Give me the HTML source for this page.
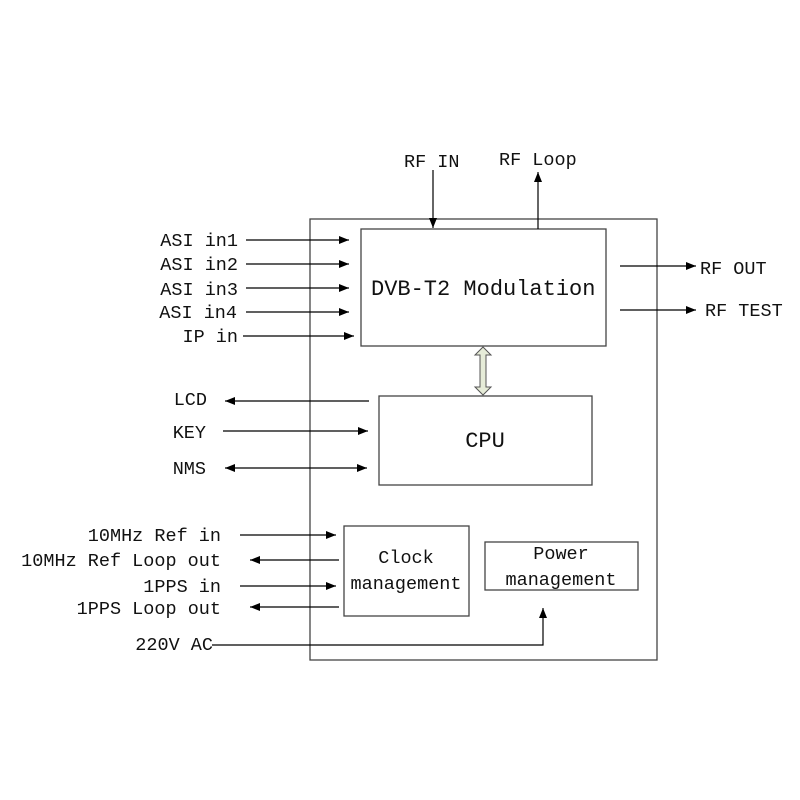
<!DOCTYPE html>
<html><head><meta charset="utf-8"><style>html,body{margin:0;padding:0;background:#fff}svg{display:block}text{font-family:"Liberation Mono","DejaVu Sans Mono",monospace;fill:#111}</style></head>
<body>
<svg width="800" height="800" viewBox="0 0 800 800" xmlns="http://www.w3.org/2000/svg">
<defs>
<marker id="a" markerWidth="10" markerHeight="8" refX="10" refY="4" orient="auto" markerUnits="userSpaceOnUse"><path d="M0,0 L10,4 L0,8 Z" fill="#000"/></marker>
<marker id="b" markerWidth="10" markerHeight="8" refX="0" refY="4" orient="auto" markerUnits="userSpaceOnUse"><path d="M10,0 L0,4 L10,8 Z" fill="#000"/></marker>
</defs>
<g fill="none" stroke="#444" stroke-width="1.3">
<rect x="310" y="219" width="347" height="441"/>
<rect x="361" y="229" width="245" height="117"/>
<rect x="379" y="396" width="213" height="89"/>
<rect x="344" y="526" width="125" height="90"/>
<rect x="485" y="542" width="153" height="48"/>
</g>
<g stroke="#000" stroke-width="1.2" fill="none">
<line x1="433" y1="170" x2="433" y2="228" marker-end="url(#a)"/>
<line x1="538" y1="229" x2="538" y2="172" marker-end="url(#a)"/>
<line x1="246" y1="240" x2="349" y2="240" marker-end="url(#a)"/>
<line x1="246" y1="264" x2="349" y2="264" marker-end="url(#a)"/>
<line x1="246" y1="288" x2="349" y2="288" marker-end="url(#a)"/>
<line x1="246" y1="312" x2="349" y2="312" marker-end="url(#a)"/>
<line x1="243" y1="336" x2="354" y2="336" marker-end="url(#a)"/>
<line x1="620" y1="266" x2="696" y2="266" marker-end="url(#a)"/>
<line x1="620" y1="310" x2="696" y2="310" marker-end="url(#a)"/>
<line x1="369" y1="401" x2="225" y2="401" marker-end="url(#a)"/>
<line x1="223" y1="431" x2="368" y2="431" marker-end="url(#a)"/>
<line x1="225" y1="468" x2="367" y2="468" marker-start="url(#b)" marker-end="url(#a)"/>
<line x1="240" y1="535" x2="336" y2="535" marker-end="url(#a)"/>
<line x1="339" y1="560" x2="250" y2="560" marker-end="url(#a)"/>
<line x1="240" y1="586" x2="336" y2="586" marker-end="url(#a)"/>
<line x1="339" y1="607" x2="250" y2="607" marker-end="url(#a)"/>
<polyline points="212,645 543,645 543,608" marker-end="url(#a)"/>
</g>
<path d="M483,347 L491,355 L486,355 L486,387 L491,387 L483,395 L475,387 L480,387 L480,355 L475,355 Z" fill="#e6ecd8" stroke="#555" stroke-width="1"/>
<g font-size="18.5">
<text x="404" y="167">RF IN</text>
<text x="499" y="165">RF Loop</text>
<g text-anchor="end">
<text x="238" y="246">ASI in1</text>
<text x="238" y="270">ASI in2</text>
<text x="238" y="295">ASI in3</text>
<text x="237" y="318">ASI in4</text>
<text x="238" y="342">IP in</text>
<text x="207" y="405">LCD</text>
<text x="206" y="438">KEY</text>
<text x="206" y="474">NMS</text>
<text x="221" y="541">10MHz Ref in</text>
<text x="221" y="566">10MHz Ref Loop out</text>
<text x="221" y="592">1PPS in</text>
<text x="221" y="614">1PPS Loop out</text>
<text x="213" y="650">220V AC</text>
</g>
<text x="700" y="274">RF OUT</text>
<text x="705" y="316">RF TEST</text>
<text x="371" y="295" font-size="22">DVB-T2 Modulation</text>
<text x="485" y="447" font-size="22" text-anchor="middle">CPU</text>
<text x="406" y="563" text-anchor="middle">Clock</text>
<text x="406" y="589" text-anchor="middle">management</text>
<text x="561" y="559" text-anchor="middle">Power</text>
<text x="561" y="585" text-anchor="middle">management</text>
</g>
</svg>
</body></html>
